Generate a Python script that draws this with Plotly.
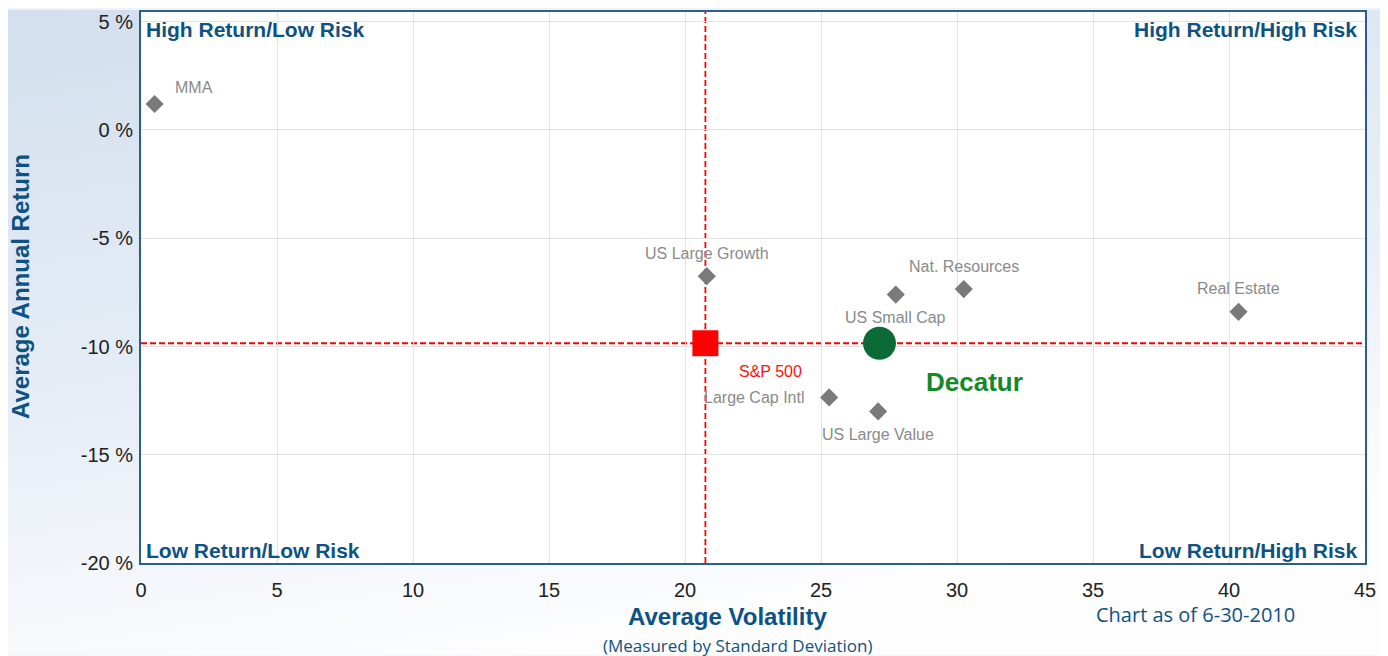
import base64
import plotly.graph_objects as go

# ---- data ----
asset_names = ["MMA", "US Large Growth", "Nat. Resources", "US Small Cap",
               "Real Estate", "Large Cap Intl", "US Large Value"]
asset_vol = [0.5, 20.8, 30.25, 27.75, 40.35, 25.3, 27.1]
asset_ret = [1.2, -6.75, -7.35, -7.6, -8.4, -12.35, -13.0]

sp_name = "S&P 500"
sp_vol = [20.75]
sp_ret = [-9.85]

dec_name = "Decatur"
dec_vol = [27.15]
dec_ret = [-9.85]

x_ticks = [0, 5, 10, 15, 20, 25, 30, 35, 40, 45]
y_ticks = [5, 0, -5, -10, -15, -20]

quadrant_labels = ["High Return/Low Risk", "High Return/High Risk",
                   "Low Return/Low Risk", "Low Return/High Risk"]

# label offsets (pixels) for each asset label relative to its point
label_shift = [(39, 17), (0, 23), (0, 23), (0, -23), (0, 23), (-75, 0), (0, -23)]

BLUE = "#0e5283"
FONT = "Liberation Sans, Arial, sans-serif"

W, H = 1380, 648
ML, MR, MT, MB = 133, 23, 2, 93
PW, PH = W - ML - MR, H - MT - MB

fig = go.Figure()

fig.add_trace(go.Scatter(
    x=asset_vol, y=asset_ret, mode="markers",
    marker=dict(symbol="diamond", size=14, color="#7a7a7a"),
    hoverinfo="text", text=asset_names, showlegend=False))

fig.add_trace(go.Scatter(
    x=sp_vol, y=sp_ret, mode="markers",
    marker=dict(symbol="square", size=26, color="#ff0000"),
    showlegend=False, name=sp_name))

fig.add_trace(go.Scatter(
    x=dec_vol, y=dec_ret, mode="markers",
    marker=dict(symbol="circle", size=33, color="#0b6a36"),
    showlegend=False, name=dec_name))

annotations = []
for n, xv, yv, (dx, dy) in zip(asset_names, asset_vol, asset_ret, label_shift):
    annotations.append(dict(x=xv, y=yv, text=n, showarrow=False,
                            xshift=dx, yshift=dy,
                            font=dict(family=FONT, size=16, color="#8a8a8a")))
annotations.append(dict(x=sp_vol[0], y=sp_ret[0], text=sp_name, showarrow=False,
                        xshift=65, yshift=-28,
                        font=dict(family=FONT, size=16, color="#ff1010")))
annotations.append(dict(x=dec_vol[0], y=dec_ret[0], text="<b>" + dec_name + "</b>", showarrow=False,
                        xshift=95, yshift=-39,
                        font=dict(family=FONT, size=26, color="#14892a")))

# quadrant labels
qpos = [(0, 1, "left", "top"), (1, 1, "right", "top"),
        (0, 0, "left", "bottom"), (1, 0, "right", "bottom")]
for t, (xp, yp, xa, ya) in zip(quadrant_labels, qpos):
    annotations.append(dict(xref="paper", yref="paper", x=xp, y=yp, text="<b>" + t + "</b>",
                            showarrow=False, xanchor=xa, yanchor=ya,
                            xshift=3 if xa == "left" else -6,
                            yshift=-4 if ya == "top" else -1,
                            font=dict(family=FONT, size=21, color=BLUE)))

# axis titles and notes (page positions converted to paper coords)
def px(xp):
    return (xp - 8 - ML) / PW

def py(yp):
    return (H - MB - (yp - 8)) / PH

annotations += [
    dict(xref="paper", yref="paper", x=px(727), y=py(617), text="<b>Average Volatility</b>",
         showarrow=False, xanchor="center", yanchor="middle",
         font=dict(family=FONT, size=24, color=BLUE)),
    dict(xref="paper", yref="paper", x=px(737), y=py(646), text="(Measured by Standard Deviation)",
         showarrow=False, xanchor="center", yanchor="middle",
         font=dict(family="Open Sans, Liberation Sans, sans-serif", size=17, color=BLUE)),
    dict(xref="paper", yref="paper", x=px(1195), y=py(615), text="Chart as of 6-30-2010",
         showarrow=False, xanchor="center", yanchor="middle",
         font=dict(family="Open Sans, Liberation Sans, sans-serif", size=20, color=BLUE)),
    dict(xref="paper", yref="paper", x=px(20), y=py(286), text="<b>Average Annual Return</b>",
         showarrow=False, textangle=-90, xanchor="center", yanchor="middle",
         font=dict(family=FONT, size=24, color=BLUE)),
]

# background gradient (style only)
svg = ('<svg xmlns="http://www.w3.org/2000/svg" width="1388" height="656">'
       '<defs><linearGradient id="g" x1="0" y1="0" x2="0.35" y2="1">'
       '<stop offset="0" stop-color="#d3dfee"/><stop offset="0.55" stop-color="#e6edf6"/>'
       '<stop offset="1" stop-color="#fdfdfe"/></linearGradient></defs>'
       '<rect width="1388" height="656" fill="url(#g)"/></svg>')
src = "data:image/svg+xml;base64," + base64.b64encode(svg.encode()).decode()

shapes = [
    dict(type="rect", xref="paper", yref="paper", x0=0, x1=1, y0=0, y1=1,
         fillcolor="white", line=dict(width=0), layer="below"),
    dict(type="line", xref="x", yref="paper", x0=sp_vol[0], x1=sp_vol[0], y0=0, y1=1,
         line=dict(color="#ff0000", width=1.8, dash="6px,3px"), layer="below"),
    dict(type="line", xref="paper", yref="y", x0=0, x1=1, y0=sp_ret[0], y1=sp_ret[0],
         line=dict(color="#ff0000", width=1.8, dash="6px,3px"), layer="below"),
]

fig.update_layout(
    width=W, height=H,
    margin=dict(l=ML, r=MR, t=MT, b=MB),
    paper_bgcolor="#eef3f9", plot_bgcolor="rgba(0,0,0,0)",
    images=[dict(source=src, xref="paper", yref="paper", x=-ML / PW, y=1 + MT / PH,
                 sizex=W / PW, sizey=H / PH, sizing="stretch",
                 xanchor="left", yanchor="top", layer="below")],
    shapes=shapes,
    annotations=annotations,
    xaxis=dict(range=[0, 45], tickvals=x_ticks, ticktext=[str(v) for v in x_ticks],
               showgrid=True, gridcolor="#e3e3e3", gridwidth=1, zeroline=False,
               showline=True, linecolor="#2a5f8c", linewidth=2, mirror=True,
               ticks="", ticklabelstandoff=8,
               tickfont=dict(family=FONT, size=20, color="#222222")),
    yaxis=dict(range=[-20, 5.45], tickvals=y_ticks, ticktext=[f"{v} %" for v in y_ticks],
               showgrid=True, gridcolor="#e3e3e3", gridwidth=1, zeroline=False,
               showline=True, linecolor="#2a5f8c", linewidth=2, mirror=True,
               ticks="", ticklabelstandoff=2,
               tickfont=dict(family=FONT, size=20, color="#222222")),
    showlegend=False,
)

fig.write_html("out.html")
